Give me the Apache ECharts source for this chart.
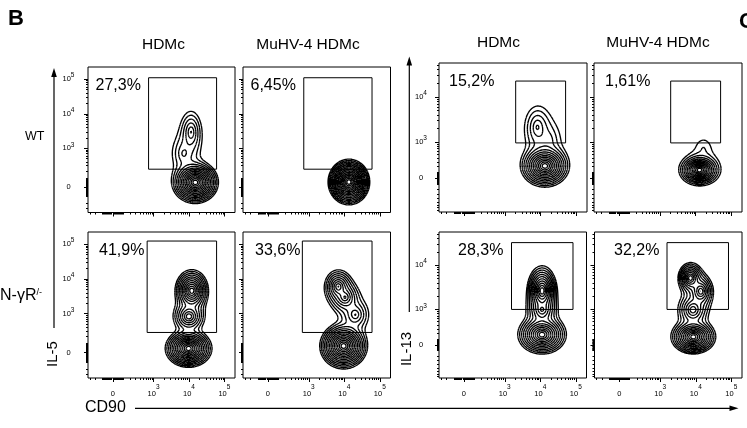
<!DOCTYPE html>
<html><head><meta charset="utf-8">
<script src="https://cdn.jsdelivr.net/npm/echarts@6/dist/echarts.min.js"></script>
<style>html,body{margin:0;padding:0;background:#fff;}#chart{width:747px;height:428px;}</style>
</head><body><div id="chart"></div>
<script>
// ================= DATA =================
const columnHeaders = ['HDMc', 'MuHV-4 HDMc', 'HDMc', 'MuHV-4 HDMc'];
const rowLabels = ['WT', 'N-γR'];
const percentLabels = ['27,3%', '6,45%', '15,2%', '1,61%', '41,9%', '33,6%', '28,3%', '32,2%'];
const panelYAxis = ['IL-5', 'IL-5', 'IL-13', 'IL-13', 'IL-5', 'IL-5', 'IL-13', 'IL-13'];
const tickValues = [0, 1e3, 1e4, 1e5];
const tickLabels = ['0', '10|3', '10|4', '10|5'];
// display (biexponential) axis settings, unit = one decade
const cd90Axis = { min: 1.15, max: 5.3, zero: 1.85 };
const il5Axis = { min: 1.15, max: 5.35, zero: 1.88 };
const il13Axis = { min: 1.45, max: 4.75, zero: 2.2 };
// gates [xMin, xMax, yMin, yMax] in display units
const gates = [
  [2.86, 4.78, 2.40, 5.04],
  [2.86, 4.78, 2.40, 5.04],
  [3.30, 4.70, 2.98, 4.35],
  [3.30, 4.70, 2.98, 4.35],
  [2.82, 4.78, 2.46, 5.09],
  [2.82, 4.78, 2.46, 5.09],
  [3.19, 4.92, 3.00, 4.51],
  [3.19, 4.92, 3.00, 4.51]
];
// cell populations per plot: [cdx, cdy, spreadX, spreadY, contourRings]
const popWtHdmIl5 = [[4.18, 2.02, 0.62, 0.58, 14], [4.06, 3.47, 0.27, 0.55, 5], [3.85, 2.85, 0.28, 0.40, 3]];
const popWtMuhvIl5 = [[4.13, 2.03, 0.56, 0.63, 15]];
const popWtHdmIl13 = [[4.12, 2.47, 0.64, 0.44, 13], [3.91, 3.33, 0.30, 0.40, 4], [4.22, 3.05, 0.25, 0.25, 2]];
const popWtMuhvIl13 = [[4.11, 2.38, 0.53, 0.32, 12], [4.22, 2.85, 0.18, 0.18, 1]];
const popKoHdmIl5 = [[3.99, 2.00, 0.63, 0.52, 13], [4.08, 3.66, 0.45, 0.58, 11], [4.00, 2.92, 0.42, 0.42, 8]];
const popKoMuhvIl5 = [[3.98, 2.07, 0.64, 0.63, 14], [3.83, 3.78, 0.36, 0.45, 8], [4.02, 3.47, 0.36, 0.40, 7], [4.31, 2.97, 0.35, 0.40, 5]];
const popKoHdmIl13 = [[4.05, 2.43, 0.65, 0.42, 12], [4.05, 3.42, 0.40, 0.54, 11], [4.05, 2.99, 0.38, 0.35, 7]];
const popKoMuhvIl13 = [[3.93, 2.38, 0.60, 0.37, 12], [3.85, 3.71, 0.33, 0.33, 9], [4.14, 3.41, 0.33, 0.35, 8], [3.92, 2.99, 0.40, 0.35, 7]];
const populations = [popWtHdmIl5, popWtMuhvIl5, popWtHdmIl13, popWtMuhvIl13, popKoHdmIl5, popKoMuhvIl5, popKoHdmIl13, popKoMuhvIl13];

// ================= LAYOUT =================
const FONT = 'Liberation Sans, Arial, Helvetica, sans-serif';
const gridBox = [
  { l: 88, t: 67, w: 147, h: 145.5 }, { l: 243, t: 67, w: 147.5, h: 145.5 },
  { l: 439, t: 63, w: 148, h: 149 }, { l: 594, t: 63, w: 148, h: 149 },
  { l: 88, t: 232, w: 147, h: 146 }, { l: 243, t: 232, w: 147.5, h: 146 },
  { l: 439, t: 232, w: 147.5, h: 146 }, { l: 594.5, t: 232, w: 147.5, h: 146 }
];
const pctPos = [[95.5, 86], [250.5, 86], [449, 82], [605, 82], [99, 251], [255, 251], [458, 251], [614, 251]];
const DELTA = 0.4;

// ================= helpers =================
function toDisplay(v, ax) {
  const gap = 3 - ax.zero;
  const k = gap * Math.LN10;
  const c = 1000 / Math.sinh(k);
  if (Math.abs(v) < 1000) return ax.zero + gap * Math.asinh(v / c) / k;
  return Math.log10(v);
}
function majorTicks(ax) {
  return tickValues.map(v => toDisplay(v, ax)).filter(u => u >= ax.min - 1e-9 && u <= ax.max + 1e-9);
}
function minorTicks(ax) {
  const vals = [];
  for (let m = 1; m <= 9; m++) { vals.push(m * 10, -m * 10, m * 100, -m * 100); }
  for (let k = 3; k <= 4; k++) for (let m = 2; m <= 9; m++) vals.push(m * Math.pow(10, k));
  return vals.map(v => toDisplay(v, ax)).filter(u => u > ax.min && u < ax.max);
}
function labelFor(u, ax) {
  const maj = tickValues.map(v => toDisplay(v, ax));
  const i = maj.findIndex(t => Math.abs(t - u) < 1e-6);
  if (i < 0) return '';
  const parts = tickLabels[i].split('|');
  return parts.length > 1 ? '{b|' + parts[0] + '}{s|' + parts[1] + '}' : '{b|' + parts[0] + '}';
}
function density(pop, x, y) {
  let s = 0;
  for (const [cx, cy, rx, ry, n] of pop) {
    const q = ((x - cx) / rx) ** 2 + ((y - cy) / ry) ** 2;
    const r = Math.sqrt(q + 0.0025) - 0.05;
    s += Math.exp(DELTA * n * (1 - r));
  }
  return s;
}
const CASES = {
  1: [[3, 0]], 2: [[0, 1]], 3: [[3, 1]], 4: [[1, 2]], 6: [[0, 2]], 7: [[3, 2]], 8: [[2, 3]],
  9: [[0, 2]], 11: [[1, 2]], 12: [[1, 3]], 13: [[0, 1]], 14: [[3, 0]]
};
function contours(pop, xa, ya) {
  const nx = 170, ny = 170;
  const dx = (xa.max - xa.min) / nx, dy = (ya.max - ya.min) / ny;
  const V = new Float64Array((nx + 1) * (ny + 1));
  for (let j = 0; j <= ny; j++) for (let i = 0; i <= nx; i++)
    V[j * (nx + 1) + i] = density(pop, xa.min + i * dx, ya.min + j * dy);
  let maxN = 0; pop.forEach(b => { maxN = Math.max(maxN, b[4]); });
  const segs = [];
  for (let lv = 0; lv <= maxN + 2; lv++) {
    const L = Math.exp(DELTA * lv);
    for (let j = 0; j < ny; j++) for (let i = 0; i < nx; i++) {
      const a = V[j * (nx + 1) + i], b = V[j * (nx + 1) + i + 1];
      const c = V[(j + 1) * (nx + 1) + i + 1], d = V[(j + 1) * (nx + 1) + i];
      const idx = (a > L ? 1 : 0) | (b > L ? 2 : 0) | (c > L ? 4 : 0) | (d > L ? 8 : 0);
      if (idx === 0 || idx === 15) continue;
      const x0 = xa.min + i * dx, y0 = ya.min + j * dy;
      const ep = e => {
        if (e === 0) return [x0 + dx * (L - a) / (b - a), y0];
        if (e === 1) return [x0 + dx, y0 + dy * (L - b) / (c - b)];
        if (e === 2) return [x0 + dx * (L - d) / (c - d), y0 + dy];
        return [x0, y0 + dy * (L - a) / (d - a)];
      };
      let list;
      if (idx === 5 || idx === 10) {
        const ctr = (a + b + c + d) / 4 > L;
        if (idx === 5) list = ctr ? [[0, 1], [2, 3]] : [[3, 0], [1, 2]];
        else list = ctr ? [[3, 0], [1, 2]] : [[0, 1], [2, 3]];
      } else list = CASES[idx];
      for (const [e1, e2] of list) segs.push({ coords: [ep(e1), ep(e2)] });
    }
  }
  return segs;
}

// ================= BUILD OPTION =================
const grids = [], xAxes = [], yAxes = [], series = [], graphics = [];
const richX = {
  b: { fontSize: 7.5, fontFamily: FONT, color: '#000', lineHeight: 19 },
  s: { fontSize: 6.5, fontFamily: FONT, color: '#000', lineHeight: 6, verticalAlign: 'top' }
};
const richY = {
  b: { fontSize: 7.5, fontFamily: FONT, color: '#000', lineHeight: 14 },
  s: { fontSize: 6.5, fontFamily: FONT, color: '#000', lineHeight: 6, verticalAlign: 'top' }
};

for (let p = 0; p < 8; p++) {
  const row = Math.floor(p / 4), col = p % 4;
  const g = gridBox[p];
  const xa = cd90Axis;
  const ya = panelYAxis[p] === 'IL-5' ? il5Axis : il13Axis;
  grids.push({ left: g.l, top: g.t, width: g.w, height: g.h, show: true, borderColor: '#000', borderWidth: 1, backgroundColor: 'transparent' });
  const common = { gridIndex: p, type: 'value', splitLine: { show: false }, axisLine: { show: false }, scale: false };
  xAxes.push(Object.assign({}, common, {
    min: xa.min, max: xa.max, position: 'bottom',
    axisTick: { show: true, inside: false, length: 4, customValues: majorTicks(xa), lineStyle: { color: '#000', width: 1 } },
    axisLabel: { show: row === 1, customValues: majorTicks(xa), margin: 6, formatter: v => labelFor(v, xa), rich: richX, hideOverlap: false }
  }));
  xAxes.push(Object.assign({}, common, {
    min: xa.min, max: xa.max, position: 'bottom',
    axisTick: { show: true, inside: false, length: 2, customValues: minorTicks(xa), lineStyle: { color: '#000', width: 1 } },
    axisLabel: { show: false }
  }));
  const showY = col === 0 || col === 2;
  yAxes.push(Object.assign({}, common, {
    min: ya.min, max: ya.max, position: 'left',
    axisTick: { show: true, inside: false, length: 4, customValues: majorTicks(ya), lineStyle: { color: '#000', width: 1 } },
    axisLabel: { show: showY, customValues: majorTicks(ya), align: 'center', margin: col === 0 ? 19.5 : 18, formatter: v => labelFor(v, ya), rich: richY, hideOverlap: false }
  }));
  yAxes.push(Object.assign({}, common, {
    min: ya.min, max: ya.max, position: 'left',
    axisTick: { show: true, inside: false, length: 2, customValues: minorTicks(ya), lineStyle: { color: '#000', width: 1 } },
    axisLabel: { show: false }
  }));
  const gt = gates[p];
  series.push({
    type: 'line', xAxisIndex: 2 * p, yAxisIndex: 2 * p, symbol: 'none', silent: true, animation: false,
    lineStyle: { color: '#000', width: 1 },
    data: [[gt[0], gt[2]], [gt[1], gt[2]], [gt[1], gt[3]], [gt[0], gt[3]], [gt[0], gt[2]]], z: 3
  });
  series.push({
    type: 'lines', coordinateSystem: 'cartesian2d', xAxisIndex: 2 * p, yAxisIndex: 2 * p,
    large: true, largeThreshold: 50, progressive: 0, progressiveThreshold: 1e9,
    silent: true, animation: false, z: 4,
    lineStyle: { color: '#000', width: 1.35, opacity: 1 },
    data: contours(populations[p], xa, ya)
  });
  graphics.push({ type: 'text', x: pctPos[p][0], y: pctPos[p][1],
    style: { text: percentLabels[p], fontSize: 16, fontFamily: FONT, fill: '#000', align: 'left', verticalAlign: 'middle' } });
}

const headerPos = [[163.5, 45], [308, 45], [498.5, 43], [658, 43]];
columnHeaders.forEach((h, i) => graphics.push({ type: 'text', x: headerPos[i][0], y: headerPos[i][1],
  style: { text: h, fontSize: 15.5, fontFamily: FONT, fill: '#000', align: 'center', verticalAlign: 'middle' } }));

graphics.push({ type: 'text', x: 8, y: 19, style: { text: 'B', fontSize: 22, fontWeight: 'bold', fontFamily: FONT, fill: '#000', align: 'left', verticalAlign: 'middle' } });
graphics.push({ type: 'text', x: 739, y: 22, style: { text: 'C', fontSize: 22, fontWeight: 'bold', fontFamily: FONT, fill: '#000', align: 'left', verticalAlign: 'middle' } });
graphics.push({ type: 'text', x: 25, y: 137, style: { text: rowLabels[0], fontSize: 12.5, fontFamily: FONT, fill: '#000', align: 'left', verticalAlign: 'middle' } });
graphics.push({ type: 'text', x: 0, y: 296, style: { text: rowLabels[1] + '{s|/-}', fontSize: 16, fontFamily: FONT, fill: '#000', align: 'left', verticalAlign: 'middle',
  rich: { s: { fontSize: 9, fontFamily: FONT, fill: '#000', verticalAlign: 'top', lineHeight: 10 } } } });
// axis titles
graphics.push({ type: 'text', x: 53, y: 354, rotation: Math.PI / 2, style: { text: 'IL-5', fontSize: 15, fontFamily: FONT, fill: '#000', align: 'center', verticalAlign: 'middle' } });
graphics.push({ type: 'text', x: 406.5, y: 349, rotation: Math.PI / 2, style: { text: 'IL-13', fontSize: 15, fontFamily: FONT, fill: '#000', align: 'center', verticalAlign: 'middle' } });
graphics.push({ type: 'text', x: 85, y: 408, style: { text: 'CD90', fontSize: 16, fontFamily: FONT, fill: '#000', align: 'left', verticalAlign: 'middle' } });
// arrows
const blk = { stroke: '#000', lineWidth: 1.2 };
graphics.push({ type: 'line', shape: { x1: 54, y1: 328, x2: 54, y2: 74 }, style: blk });
graphics.push({ type: 'polygon', shape: { points: [[54, 68], [51.2, 77], [56.8, 77]] }, style: { fill: '#000' } });
graphics.push({ type: 'line', shape: { x1: 409.3, y1: 312, x2: 409.3, y2: 62 }, style: blk });
graphics.push({ type: 'polygon', shape: { points: [[409.3, 56.5], [406.5, 65.5], [412.1, 65.5]] }, style: { fill: '#000' } });
graphics.push({ type: 'line', shape: { x1: 135, y1: 408.3, x2: 732, y2: 408.3 }, style: blk });
graphics.push({ type: 'polygon', shape: { points: [[738.5, 408.3], [729.5, 405.5], [729.5, 411.1]] }, style: { fill: '#000' } });

const chart = echarts.init(document.getElementById('chart'), null, { renderer: 'canvas' });
chart.setOption({
  animation: false,
  backgroundColor: '#fff',
  grid: grids, xAxis: xAxes, yAxis: yAxes, series: series,
  graphic: graphics
});
</script></body></html>
